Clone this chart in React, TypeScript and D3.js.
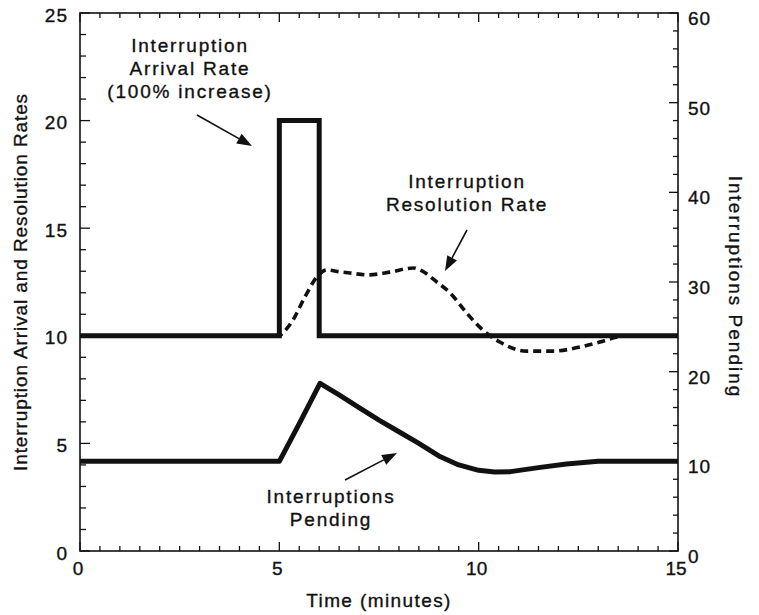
import { useEffect, useRef } from 'react';
import * as d3 from 'd3';

// arrival rate (left axis) - a 1 minute pulse to 20
const arrivalTime = [0, 5, 5, 6, 6, 15];
const arrivalRate = [10, 10, 20, 20, 10, 10];

// resolution rate (left axis)
const resolutionTime = [0, 5, 5.07, 5.34, 5.64, 5.94, 6.19, 6.5, 6.77, 7.2, 7.78, 8.36, 8.53, 8.95, 9.28, 9.7, 10.1, 10.53, 11.2, 11.87, 12.54, 13.04, 13.47, 13.8, 15];
const resolutionRate = [10, 10, 10.1, 10.73, 11.8, 12.73, 13.06, 12.98, 12.92, 12.83, 12.96, 13.15, 13.06, 12.5, 12.0, 11.06, 10.27, 9.71, 9.29, 9.29, 9.48, 9.71, 9.94, 10, 10];

// interruptions pending (right axis)
const pendingTime = [0, 5, 5.5, 6.02, 6.5, 7, 7.5, 8, 8.5, 9, 9.5, 10, 10.4, 10.8, 11.5, 12.2, 13, 15];
const pendingCount = [10, 10, 14.2, 18.7, 17.4, 16.0, 14.6, 13.3, 12.0, 10.6, 9.6, 9.0, 8.8, 8.85, 9.3, 9.7, 10, 10];

const xTicks = [0, 5, 10, 15];
const leftTicks = [0, 5, 10, 15, 20, 25];
const rightTicks = [0, 10, 20, 30, 40, 50, 60];

const notes = [
  { lines: ['Interruption', 'Arrival Rate', '(100% increase)'], x: 190, y: 52, from: [197, 115], to: [252, 146] },
  { lines: ['Interruption', 'Resolution Rate'], x: 467, y: 188, from: [467, 230], to: [445, 271] },
  { lines: ['Interruptions', 'Pending'], x: 331, y: 503, from: [345, 480], to: [397, 453] },
];

const FONT = '"Liberation Sans", Arial, Helvetica, sans-serif';

function App() {
  const ref = useRef<SVGSVGElement>(null);

  useEffect(() => {
    const svg = d3.select(ref.current);
    svg.selectAll('*').remove();

    const m = { left: 80, right: 678, top: 13, bottom: 551 };
    const x = d3.scaleLinear().domain([0, 15]).range([m.left, m.right]);
    const yL = d3.scaleLinear().domain([0, 25]).range([m.bottom, m.top]);
    const yR = d3.scaleLinear().domain([0, 60]).range([m.bottom, m.top]);

    const g = svg.append('g');

    // frame
    g.append('rect')
      .attr('x', m.left).attr('y', m.top)
      .attr('width', m.right - m.left).attr('height', m.bottom - m.top)
      .attr('fill', 'none').attr('stroke', '#111').attr('stroke-width', 1.6);

    const ticks = g.append('g').attr('stroke', '#111').attr('stroke-width', 1.3);
    // bottom + top ticks every half minute
    d3.range(0, 15.01, 0.5).forEach(t => {
      const len = t % 5 === 0 ? 9 : 5;
      ticks.append('line').attr('x1', x(t)).attr('x2', x(t)).attr('y1', m.bottom).attr('y2', m.bottom - len);
      ticks.append('line').attr('x1', x(t)).attr('x2', x(t)).attr('y1', m.top).attr('y2', m.top + len);
    });
    d3.range(0, 25.01, 1).forEach(v => {
      const len = v % 5 === 0 ? 10 : 6;
      ticks.append('line').attr('x1', m.left).attr('x2', m.left + len).attr('y1', yL(v)).attr('y2', yL(v));
    });
    d3.range(0, 60.01, 2).forEach(v => {
      const len = v % 10 === 0 ? 9 : 5;
      ticks.append('line').attr('x1', m.right).attr('x2', m.right - len).attr('y1', yR(v)).attr('y2', yR(v));
    });

    const txt = g.append('g')
      .attr('font-family', FONT).attr('font-size', 19).attr('fill', '#111')
      .attr('stroke', '#111').attr('stroke-width', 0.35);

    xTicks.forEach(t => {
      txt.append('text').attr('x', x(t) - 2).attr('y', m.bottom + 24)
        .attr('text-anchor', 'middle').text(t);
    });
    leftTicks.forEach(v => {
      txt.append('text').attr('x', m.left - 12).attr('y', yL(v) + 8.5)
        .attr('text-anchor', 'end').attr('letter-spacing', 1).text(v);
    });
    rightTicks.forEach(v => {
      txt.append('text').attr('x', m.right + 10).attr('y', yR(v) + 12)
        .attr('letter-spacing', 1).text(v);
    });

    txt.append('text').attr('x', 379).attr('y', 607).attr('text-anchor', 'middle')
      .attr('letter-spacing', 1.4).text('Time (minutes)');
    txt.append('text').attr('transform', 'translate(27,282) rotate(-90)').attr('text-anchor', 'middle')
      .attr('letter-spacing', 0.9).text('Interruption Arrival and Resolution Rates');
    txt.append('text').attr('transform', 'translate(729,287) rotate(90)').attr('text-anchor', 'middle')
      .attr('letter-spacing', 2).text('Interruptions Pending');

    // series
    const lineL = d3.line<[number, number]>().x(d => x(d[0])).y(d => yL(d[1]));
    const lineR = d3.line<[number, number]>().x(d => x(d[0])).y(d => yR(d[1]));

    g.append('path')
      .attr('d', lineL.curve(d3.curveMonotoneX)(d3.zip(resolutionTime, resolutionRate) as [number, number][]))
      .attr('fill', 'none').attr('stroke', '#111').attr('stroke-width', 3.6)
      .attr('stroke-dasharray', '8,5');

    g.append('path')
      .attr('d', lineL.curve(d3.curveLinear)(d3.zip(arrivalTime, arrivalRate) as [number, number][]))
      .attr('fill', 'none').attr('stroke', '#111').attr('stroke-width', 5)
      .attr('stroke-linejoin', 'miter');

    g.append('path')
      .attr('d', lineR(d3.zip(pendingTime, pendingCount) as [number, number][]))
      .attr('fill', 'none').attr('stroke', '#111').attr('stroke-width', 5)
      .attr('stroke-linejoin', 'round');

    // annotations with arrows
    notes.forEach(n => {
      n.lines.forEach((l, i) => {
        txt.append('text').attr('x', n.x).attr('y', n.y + i * 23)
          .attr('text-anchor', 'middle').attr('letter-spacing', 1.8).text(l);
      });
      const [x1, y1] = n.from;
      const [x2, y2] = n.to;
      const a = Math.atan2(y2 - y1, x2 - x1);
      const hl = 15, hw = 5.5;
      const bx = x2 - hl * Math.cos(a), by = y2 - hl * Math.sin(a);
      g.append('line').attr('x1', x1).attr('y1', y1).attr('x2', bx).attr('y2', by)
        .attr('stroke', '#111').attr('stroke-width', 1.6);
      g.append('path')
        .attr('d', `M${x2},${y2}L${bx - hw * Math.sin(a)},${by + hw * Math.cos(a)}L${bx + hw * Math.sin(a)},${by - hw * Math.cos(a)}Z`)
        .attr('fill', '#111');
    });
  }, []);

  return (
    <svg ref={ref} width={759} height={615}
      style={{ position: 'absolute', left: 0, top: 0, background: '#fff' }} />
  );
}

export default App;
